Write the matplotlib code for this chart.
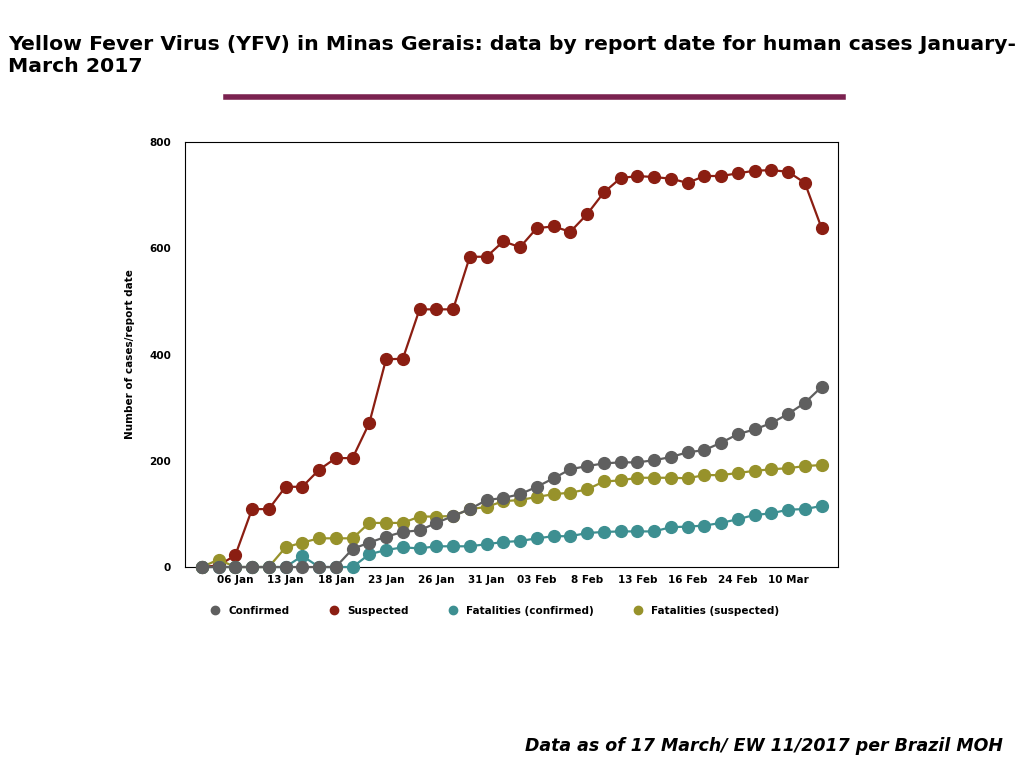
import matplotlib

matplotlib.use("Agg")
import matplotlib.pyplot as plt
from matplotlib.lines import Line2D

tick_labels = ["06 Jan", "13 Jan", "18 Jan", "23 Jan", "26 Jan", "31 Jan",
               "03 Feb", "8 Feb", "13 Feb", "16 Feb", "24 Feb", "10 Mar"]
tick_idx = list(range(2, 36, 3))

suspected = [0, 3, 22, 109, 109, 151, 151, 183, 205, 205, 271, 391, 392, 485, 485,
             485, 584, 584, 613, 602, 638, 641, 631, 664, 705, 732, 736, 734, 731,
             723, 736, 736, 741, 746, 747, 744, 723, 638]
confirmed = [0, 0, 0, 0, 0, 0, 0, 0, 0, 34, 46, 57, 66, 69, 83, 96, 109, 126, 130,
             137, 151, 167, 184, 190, 195, 197, 197, 201, 207, 216, 220, 234, 250,
             259, 271, 288, 309, 339]
fat_confirmed = [0, 0, 0, 0, 0, 0, 21, 0, 0, 0, 24, 32, 37, 35, 39, 39, 39, 43, 47,
                 49, 54, 58, 58, 64, 66, 67, 67, 67, 75, 76, 78, 83, 90, 98, 101,
                 108, 109, 115]
fat_suspected = [0, 14, 0, 0, 0, 37, 46, 54, 54, 54, 83, 83, 83, 95, 95, 96, 109,
                 113, 124, 126, 132, 137, 140, 146, 161, 163, 168, 168, 168, 167,
                 173, 173, 177, 181, 184, 186, 190, 192]

series = [
    ("Suspected", suspected, "#8b1e12", 2),
    ("Fatalities (suspected)", fat_suspected, "#97922b", 3),
    ("Fatalities (confirmed)", fat_confirmed, "#3d8f91", 4),
    ("Confirmed", confirmed, "#5f5f5f", 5),
]
legend_order = ["Confirmed", "Suspected", "Fatalities (confirmed)", "Fatalities (suspected)"]

fig = plt.figure(figsize=(10.24, 7.68), dpi=100)
ax = fig.add_axes([0.1807, 0.2617, 0.638, 0.5534])
x = list(range(len(suspected)))
for name, vals, color, z in series:
    ax.plot(x, vals, color=color, lw=1.6, marker="o", ms=8.5, clip_on=False,
            zorder=z, label=name)

ax.set_xlim(-1, 38)
ax.set_ylim(0, 800)
ax.set_yticks([0, 200, 400, 600, 800])
ax.set_xticks(tick_idx)
ax.set_xticklabels(tick_labels)
ax.tick_params(length=0, labelsize=7.5)
for lbl in ax.get_xticklabels() + ax.get_yticklabels():
    lbl.set_fontweight("bold")
ax.tick_params(axis="y", pad=10)
ax.tick_params(axis="x", pad=6)
ax.set_ylabel("Number of cases/report date", fontsize=7.5, fontweight="bold", labelpad=10)

handles = {name: Line2D([], [], color=color, marker="o", ls="none", ms=6)
           for name, _, color, _ in series}
ax.legend([handles[n] for n in legend_order], legend_order, ncol=4,
          loc="upper center", bbox_to_anchor=(0.47, -0.07), frameon=False,
          prop={"size": 7.5, "weight": "bold"}, handletextpad=0.3,
          columnspacing=3.2)

fig.text(0.008, 0.955, "Yellow Fever Virus (YFV) in Minas Gerais: data by report date for human cases January-\nMarch 2017",
         fontsize=14.7, fontweight="bold", va="top", linespacing=1.25)
fig.add_artist(Line2D([226 / 1024, 843 / 1024], [1 - 97 / 768] * 2,
                      color="#7b2250", lw=4))
fig.text(0.979, 0.017, "Data as of 17 March/ EW 11/2017 per Brazil MOH", fontsize=12.5,
         fontweight="bold", style="italic", ha="right", va="bottom")

fig.savefig("out.png", dpi=100)
